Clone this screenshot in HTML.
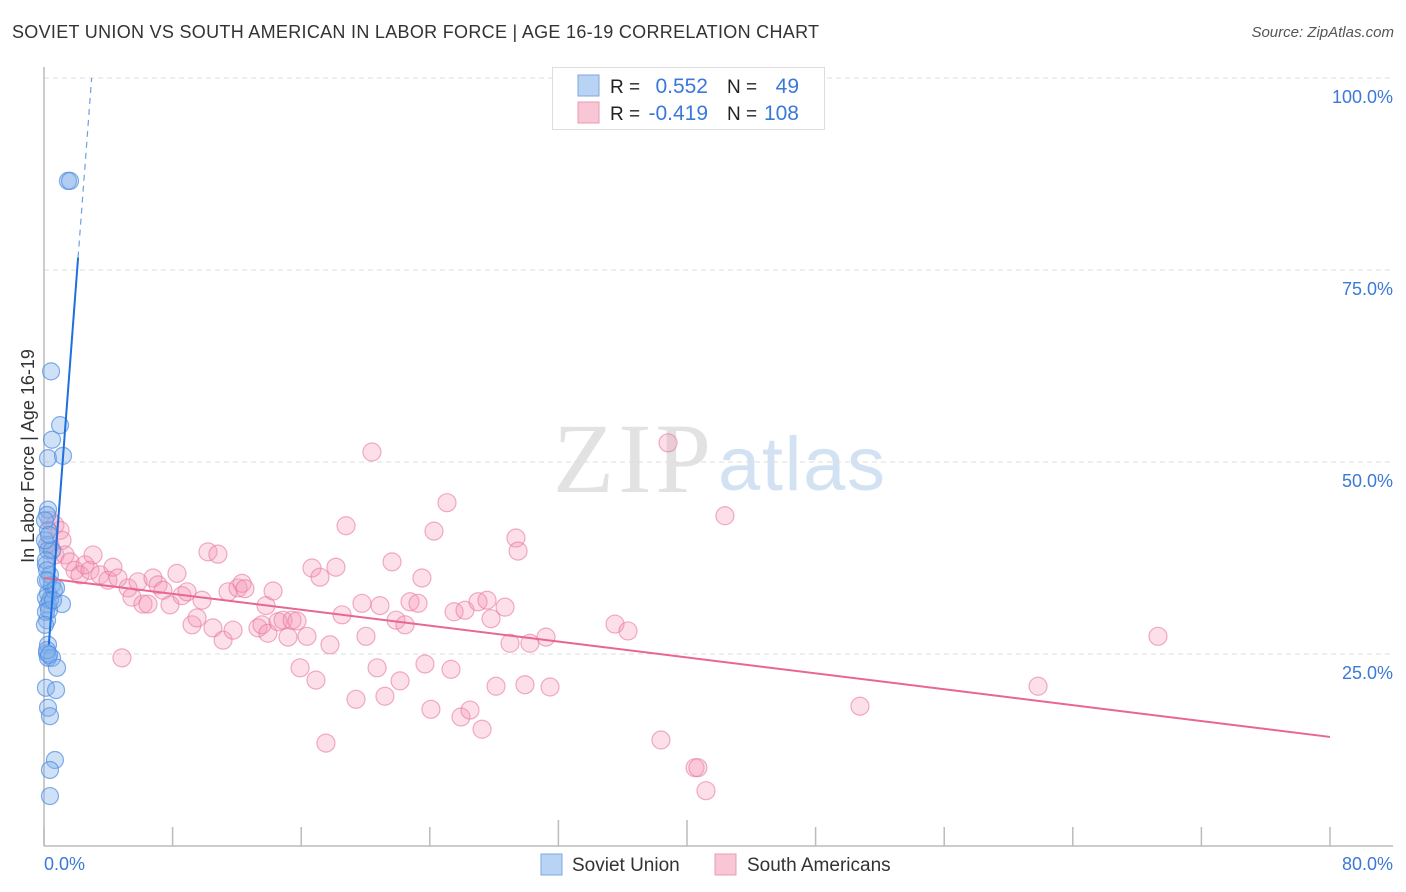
<!DOCTYPE html>
<html><head><meta charset="utf-8">
<style>
body{margin:0;background:#fff;font-family:"Liberation Sans",sans-serif;}
#wrap{position:relative;width:1406px;height:892px;overflow:hidden;}
.t{position:absolute;white-space:nowrap;}
</style></head><body>
<div id="wrap">
<div class="t" style="left:12px;top:22px;font-size:18px;color:#333;letter-spacing:0.3px;">SOVIET UNION VS SOUTH AMERICAN IN LABOR FORCE | AGE 16-19 CORRELATION CHART</div>
<div class="t" style="right:12px;top:24px;font-size:15px;color:#555;font-style:italic;">Source: ZipAtlas.com</div>
<svg id="svg" width="1406" height="892" style="position:absolute;left:0;top:0"></svg>
</div>
<script>
const yTicks=[25,50,75,100];
const yTickLabels=["25.0%","50.0%","75.0%","100.0%"];
const xTickLabels=["0.0%","80.0%"];
const blueX=[1.49,1.62,0.44,1.0,0.5,0.25,1.18,0.25,0.19,0.25,0.19,0.25,0.5,0.12,0.25,0.5,0.25,0.12,1.12,0.25,0.19,0.25,0.19,0.25,0.5,0.12,0.75,0.81,0.25,0.37,0.68,0.37,0.37,0.06,0.12,0.37,0.62,0.12,0.37,0.19,0.31,0.75,0.06,0.19,0.31,0.06,0.56,0.12,0.31];
const blueY=[86.6,86.6,61.8,54.8,52.9,50.5,50.8,43.8,43.1,41.1,39.2,38.5,38.5,36.6,34.6,34.0,32.9,32.3,31.5,31.4,29.4,26.2,25.1,24.5,24.5,20.6,20.3,23.2,18.0,16.9,11.2,9.9,6.5,39.8,37.2,35.3,33.3,30.5,32.0,25.5,24.9,33.6,42.4,35.9,30.7,28.8,32.0,34.6,40.5];
const pinkX=[0.37,0.68,1.0,1.12,0.37,0.68,1.31,1.62,1.93,2.24,2.55,2.86,3.05,3.48,3.98,4.29,4.6,4.85,5.23,5.47,5.85,6.16,6.47,6.78,7.09,7.4,7.84,8.27,8.58,8.9,9.21,9.52,9.83,10.2,10.51,10.82,11.14,11.45,11.76,12.07,12.32,12.5,13.31,13.56,13.81,13.93,14.25,14.56,14.87,15.18,15.43,15.74,15.93,16.36,16.67,16.92,17.17,17.54,17.79,18.16,18.79,18.54,19.41,19.78,20.03,20.4,20.72,20.9,21.21,21.65,21.9,22.15,22.46,22.77,23.27,23.51,23.7,24.07,24.26,25.07,25.32,25.51,25.94,26.19,26.5,27.0,27.25,27.56,27.81,28.12,28.68,28.99,29.36,29.49,29.92,30.23,31.23,31.48,35.52,36.33,38.38,38.82,40.5,40.68,41.18,42.36,50.76,61.84,69.3];
const pinkY=[42.4,41.8,41.1,39.8,39.2,37.9,37.9,37.0,35.9,35.3,36.6,35.9,37.9,35.3,34.6,36.3,34.9,24.5,33.6,32.4,34.4,31.5,31.5,34.9,34.0,33.3,31.4,35.5,32.6,33.1,28.8,29.7,32.0,38.3,28.4,38.0,26.8,33.1,28.1,33.6,34.2,33.5,28.4,28.8,31.3,27.7,33.2,29.2,29.4,27.2,29.4,29.3,23.2,27.3,36.2,21.6,35.0,13.4,26.2,36.3,41.7,30.1,19.1,31.6,27.3,51.3,23.2,31.3,19.5,37.0,29.4,21.5,28.8,31.8,31.6,34.9,23.7,17.8,41.0,44.7,23.0,30.5,16.8,30.7,17.7,31.8,15.2,32.0,29.6,20.8,31.1,26.4,40.1,38.4,21.0,26.4,27.2,20.7,28.9,28.0,13.8,52.5,10.2,10.2,7.2,43.0,18.2,20.8,27.3];
const pinkTrend=[34.9,14.2]; // y at x=0 and x=80
const blueTrend=[17.9,27.7]; // intercept, slope

const X0=44,X1=1330,Y0=846,Y100=78;
const sx=v=>X0+(X1-X0)*v/80;
const sy=v=>Y0-(Y0-Y100)*v/100;
const svg=document.getElementById('svg');
const NS='http://www.w3.org/2000/svg';
function mk(tag,attrs,parent){const e=document.createElementNS(NS,tag);for(const k in attrs)e.setAttribute(k,attrs[k]);(parent||svg).appendChild(e);return e;}

let wm=mk('text',{x:553,y:492,'font-size':100,'font-family':'Liberation Serif, serif',fill:'#e2e2e2',textLength:158});wm.textContent='ZIP';


let wm2=mk('text',{x:718,y:490,'font-size':76,'font-family':'Liberation Sans, sans-serif',fill:'#d3e2f3',textLength:167});wm2.textContent='atlas';



yTicks.forEach((t,i)=>{
  const g=mk('line',{x1:X0,x2:1393,y1:sy(t),y2:sy(t),stroke:'#dddddd','stroke-dasharray':'5,4'});
  
  
  const l=mk('text',{x:1393,y:sy(t)+25,'text-anchor':'end','font-size':18,fill:'#3b78d8'});
  l.textContent=yTickLabels[i];
  
  
});
let ax=mk('line',{x1:X0,x2:X0,y1:67,y2:Y0,stroke:'#bbb','stroke-width':1.5});


let bx=mk('line',{x1:X0,x2:1393,y1:Y0,y2:Y0,stroke:'#bbb','stroke-width':1.5});


for(let i=0;i<=10;i++){
  const x=sx(i*8);
  const tk=mk('line',{x1:x,x2:x,y1:(i==4||i==5)?820:827,y2:Y0,stroke:'#bbb','stroke-width':1.5});
  
  
}
let xl0=mk('text',{x:44,y:870,'font-size':18,fill:'#3b78d8'});xl0.textContent=xTickLabels[0];


let xl1=mk('text',{x:1393,y:870,'text-anchor':'end','font-size':18,fill:'#3b78d8'});xl1.textContent=xTickLabels[1];


let yt=mk('text',{x:0,y:0,'font-size':18,fill:'#333',transform:'translate(34,456) rotate(-90)','text-anchor':'middle'});yt.textContent='In Labor Force | Age 16-19';



pinkX.forEach((v,i)=>{
  const c=mk('circle',{cx:sx(v),cy:sy(pinkY[i]),r:9,fill:'rgba(244,150,180,0.3)',stroke:'rgba(232,120,160,0.6)','stroke-width':1.2});
  
  
});
blueX.forEach((v,i)=>{
  const c=mk('circle',{cx:sx(v),cy:sy(blueY[i]),r:8.5,fill:'rgba(130,175,235,0.38)',stroke:'rgba(80,140,225,0.7)','stroke-width':1.2});
  
  
});
let pt=mk('line',{x1:sx(0),y1:sy(pinkTrend[0]),x2:sx(80),y2:sy(pinkTrend[1]),stroke:'#e8678f','stroke-width':2});


const bxs=0.3,bxe=2.12,bxd=(100-blueTrend[0])/blueTrend[1];
let bt=mk('line',{x1:sx(bxs),y1:sy(blueTrend[0]+blueTrend[1]*bxs),x2:sx(bxe),y2:sy(blueTrend[0]+blueTrend[1]*bxe),stroke:'#1f6fdc','stroke-width':2});


let bd=mk('line',{x1:sx(bxe),y1:sy(blueTrend[0]+blueTrend[1]*bxe),x2:sx(bxd),y2:sy(100),stroke:'#6f9fe0','stroke-width':1.2,'stroke-dasharray':'6,5'});



let lb=mk('rect',{x:552.5,y:67.5,width:272,height:62,fill:'#fff',stroke:'#ddd'});


const rows=[{y:86,fill:'#b9d3f5',st:'#7ea7e0',r:'0.552',n:'49'},{y:113,fill:'#f9c6d5',st:'#eb99b3',r:'-0.419',n:'108'}];
rows.forEach((rw,i)=>{
  const s=mk('rect',{x:578,y:rw.y-11,width:21,height:21,fill:rw.fill,stroke:rw.st});
  
  
  const a=mk('text',{x:610,y:rw.y+7,'font-size':19,fill:'#222'});a.textContent='R =';
  
  
  const b=mk('text',{x:708,y:rw.y+7,'font-size':21,fill:'#3b78d8','text-anchor':'end'});b.textContent=rw.r;
  
  
  const c=mk('text',{x:727,y:rw.y+7,'font-size':19,fill:'#222'});c.textContent='N =';
  
  
  const d=mk('text',{x:799,y:rw.y+7,'font-size':21,fill:'#3b78d8','text-anchor':'end'});d.textContent=rw.n;
  
  
});

const leg=[{x:541,fill:'#b9d3f5',st:'#7ea7e0',t:'Soviet Union',tx:572,n:'legend-soviet-union'},{x:715,fill:'#f9c6d5',st:'#eb99b3',t:'South Americans',tx:747,n:'legend-south-americans'}];
leg.forEach(l=>{
  const s=mk('rect',{x:l.x,y:854,width:21,height:21,fill:l.fill,stroke:l.st});
  
  
  const t=mk('text',{x:l.tx,y:871,'font-size':19,fill:'#333'});t.textContent=l.t;
  
  
});
</script>
</body></html>
